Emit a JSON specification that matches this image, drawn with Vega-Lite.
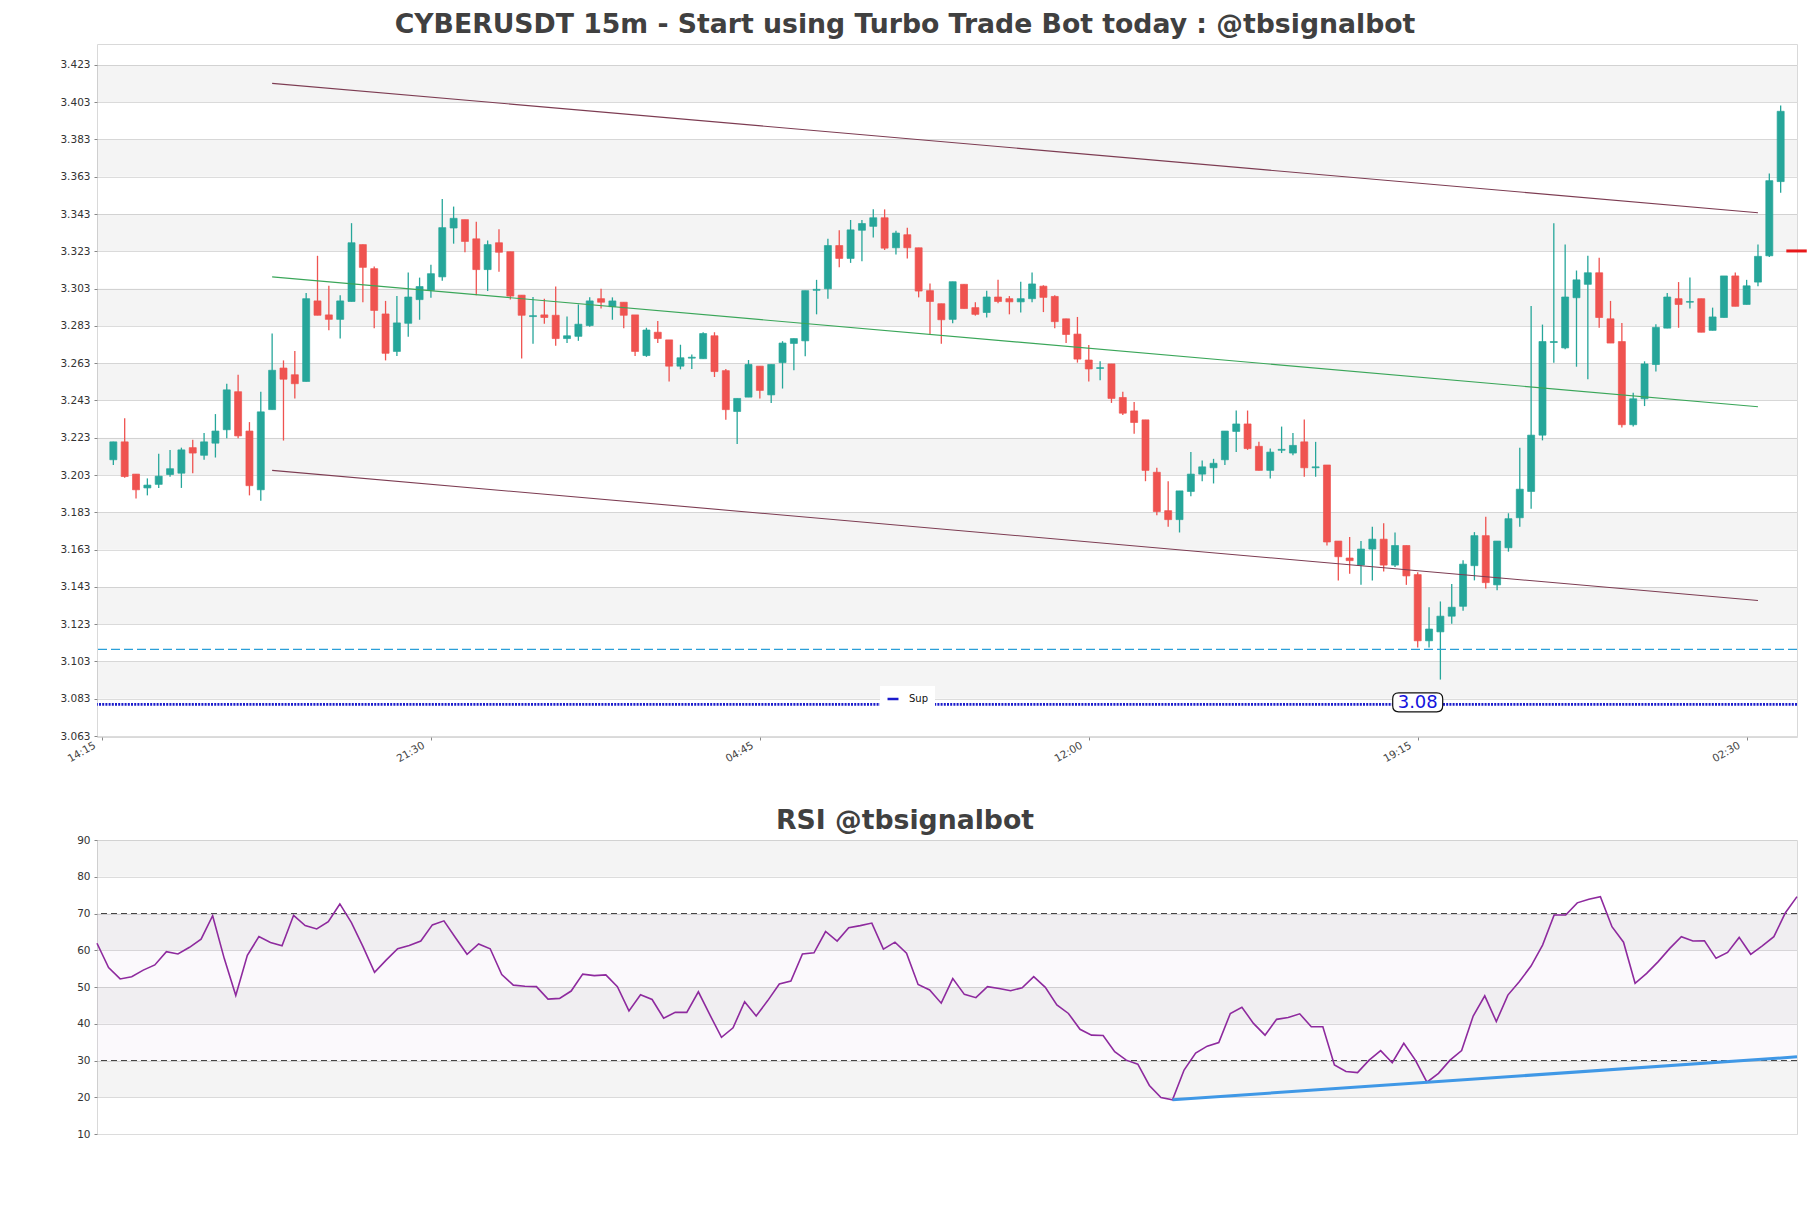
{
  "$schema": "https://vega.github.io/schema/vega-lite/v6.json",
  "autosize": {"type": "none"},
  "padding": {"left": 97, "top": 44, "right": 1714, "bottom": 1164},
  "background": "white",
  "bounds": "flush",
  "spacing": 103,
  "config": {
    "font": "DejaVu Sans",
    "view": {"stroke": "#d9d9d9", "strokeWidth": 1},
    "axis": {"labelFont": "DejaVu Sans", "labelColor": "#333333", "tickColor": "#888888", "gridColor": "#dcdcdc", "domain": false, "title": null, "labelOverlap": false},
    "title": {"font": "DejaVu Sans", "fontWeight": "bold", "fontSize": 26.7, "color": "#404040"}
  },
  "datasets": {
    "candles": [
      {"i":0,"o":3.2112,"h":3.2208,"l":3.2084,"c":3.2208,"rsi":61.9},
      {"i":1,"o":3.2208,"h":3.2335,"l":3.2016,"c":3.2022,"rsi":55.3},
      {"i":2,"o":3.2035,"h":3.2035,"l":3.1904,"c":3.1951,"rsi":52.2},
      {"i":3,"o":3.1961,"h":3.2012,"l":3.1921,"c":3.1976,"rsi":52.8},
      {"i":4,"o":3.1980,"h":3.2144,"l":3.1961,"c":3.2024,"rsi":54.6},
      {"i":5,"o":3.2033,"h":3.2165,"l":3.2021,"c":3.2064,"rsi":56.0},
      {"i":6,"o":3.2040,"h":3.2177,"l":3.1961,"c":3.2165,"rsi":59.6},
      {"i":7,"o":3.2177,"h":3.2220,"l":3.2040,"c":3.2148,"rsi":59.0},
      {"i":8,"o":3.2136,"h":3.2256,"l":3.2112,"c":3.2208,"rsi":60.8},
      {"i":9,"o":3.2201,"h":3.2357,"l":3.2124,"c":3.2266,"rsi":63.0},
      {"i":10,"o":3.2273,"h":3.2520,"l":3.2228,"c":3.2487,"rsi":69.4},
      {"i":11,"o":3.2477,"h":3.2568,"l":3.2228,"c":3.2240,"rsi":57.8},
      {"i":12,"o":3.2266,"h":3.2314,"l":3.1921,"c":3.1973,"rsi":47.7},
      {"i":13,"o":3.1951,"h":3.2477,"l":3.1892,"c":3.2369,"rsi":58.6},
      {"i":14,"o":3.2381,"h":3.2789,"l":3.2381,"c":3.2592,"rsi":63.7},
      {"i":15,"o":3.2604,"h":3.2645,"l":3.2215,"c":3.2544,"rsi":62.1},
      {"i":16,"o":3.2568,"h":3.2695,"l":3.2441,"c":3.2520,"rsi":61.2},
      {"i":17,"o":3.2532,"h":3.3007,"l":3.2532,"c":3.2976,"rsi":69.5},
      {"i":18,"o":3.2964,"h":3.3206,"l":3.2887,"c":3.2887,"rsi":66.7},
      {"i":19,"o":3.2889,"h":3.3045,"l":3.2806,"c":3.2865,"rsi":65.8},
      {"i":20,"o":3.2865,"h":3.2995,"l":3.2762,"c":3.2964,"rsi":67.8},
      {"i":21,"o":3.2961,"h":3.3381,"l":3.2961,"c":3.3276,"rsi":72.6},
      {"i":22,"o":3.3266,"h":3.3266,"l":3.2957,"c":3.3144,"rsi":67.5},
      {"i":23,"o":3.3137,"h":3.3149,"l":3.2818,"c":3.2913,"rsi":61.0},
      {"i":24,"o":3.2894,"h":3.2964,"l":3.2645,"c":3.2683,"rsi":54.0},
      {"i":25,"o":3.2693,"h":3.2990,"l":3.2669,"c":3.2846,"rsi":57.3},
      {"i":26,"o":3.2844,"h":3.3117,"l":3.2772,"c":3.2985,"rsi":60.4},
      {"i":27,"o":3.2971,"h":3.3089,"l":3.2863,"c":3.3041,"rsi":61.3},
      {"i":28,"o":3.3021,"h":3.3158,"l":3.2981,"c":3.3110,"rsi":62.5},
      {"i":29,"o":3.3093,"h":3.3511,"l":3.3072,"c":3.3357,"rsi":66.9},
      {"i":30,"o":3.3355,"h":3.3470,"l":3.3271,"c":3.3407,"rsi":68.0},
      {"i":31,"o":3.3400,"h":3.3400,"l":3.3225,"c":3.3283,"rsi":63.4},
      {"i":32,"o":3.3297,"h":3.3388,"l":3.2995,"c":3.3132,"rsi":58.9},
      {"i":33,"o":3.3132,"h":3.3288,"l":3.3017,"c":3.3266,"rsi":61.7},
      {"i":34,"o":3.3276,"h":3.3348,"l":3.3120,"c":3.3225,"rsi":60.4},
      {"i":35,"o":3.3228,"h":3.3228,"l":3.2971,"c":3.2990,"rsi":53.4},
      {"i":36,"o":3.2995,"h":3.2995,"l":3.2655,"c":3.2887,"rsi":50.5},
      {"i":37,"o":3.2880,"h":3.2985,"l":3.2734,"c":3.2885,"rsi":50.2},
      {"i":38,"o":3.2889,"h":3.2976,"l":3.2841,"c":3.2875,"rsi":50.1},
      {"i":39,"o":3.2887,"h":3.3041,"l":3.2724,"c":3.2762,"rsi":46.7},
      {"i":40,"o":3.2762,"h":3.2880,"l":3.2738,"c":3.2777,"rsi":46.9},
      {"i":41,"o":3.2774,"h":3.2945,"l":3.2750,"c":3.2839,"rsi":48.9},
      {"i":42,"o":3.2832,"h":3.2983,"l":3.2825,"c":3.2964,"rsi":53.5},
      {"i":43,"o":3.2976,"h":3.3029,"l":3.2923,"c":3.2957,"rsi":53.1},
      {"i":44,"o":3.2933,"h":3.2983,"l":3.2863,"c":3.2964,"rsi":53.3},
      {"i":45,"o":3.2957,"h":3.2957,"l":3.2818,"c":3.2887,"rsi":50.1},
      {"i":46,"o":3.2889,"h":3.2889,"l":3.2669,"c":3.2693,"rsi":43.5},
      {"i":47,"o":3.2671,"h":3.2820,"l":3.2664,"c":3.2808,"rsi":47.9},
      {"i":48,"o":3.2796,"h":3.2856,"l":3.2738,"c":3.2762,"rsi":46.6},
      {"i":49,"o":3.2755,"h":3.2755,"l":3.2532,"c":3.2614,"rsi":41.5},
      {"i":50,"o":3.2614,"h":3.2729,"l":3.2597,"c":3.2659,"rsi":43.1},
      {"i":51,"o":3.2657,"h":3.2676,"l":3.2599,"c":3.2662,"rsi":43.1},
      {"i":52,"o":3.2654,"h":3.2796,"l":3.2654,"c":3.2789,"rsi":48.7},
      {"i":53,"o":3.2777,"h":3.2796,"l":3.2556,"c":3.2585,"rsi":42.4},
      {"i":54,"o":3.2590,"h":3.2599,"l":3.2326,"c":3.2381,"rsi":36.3},
      {"i":55,"o":3.2371,"h":3.2441,"l":3.2196,"c":3.2441,"rsi":38.9},
      {"i":56,"o":3.2448,"h":3.2647,"l":3.2448,"c":3.2623,"rsi":46.0},
      {"i":57,"o":3.2614,"h":3.2614,"l":3.2441,"c":3.2484,"rsi":42.1},
      {"i":58,"o":3.2460,"h":3.2623,"l":3.2417,"c":3.2623,"rsi":46.3},
      {"i":59,"o":3.2633,"h":3.2748,"l":3.2494,"c":3.2738,"rsi":50.8},
      {"i":60,"o":3.2736,"h":3.2762,"l":3.2592,"c":3.2762,"rsi":51.6},
      {"i":61,"o":3.2750,"h":3.3019,"l":3.2667,"c":3.3019,"rsi":59.0},
      {"i":62,"o":3.3021,"h":3.3077,"l":3.2892,"c":3.3026,"rsi":59.3},
      {"i":63,"o":3.3029,"h":3.3297,"l":3.2976,"c":3.3261,"rsi":65.1},
      {"i":64,"o":3.3261,"h":3.3343,"l":3.3144,"c":3.3192,"rsi":62.5},
      {"i":65,"o":3.3192,"h":3.3398,"l":3.3168,"c":3.3345,"rsi":66.1},
      {"i":66,"o":3.3343,"h":3.3398,"l":3.3177,"c":3.3379,"rsi":66.7},
      {"i":67,"o":3.3364,"h":3.3455,"l":3.3304,"c":3.3410,"rsi":67.4},
      {"i":68,"o":3.3410,"h":3.3455,"l":3.3237,"c":3.3247,"rsi":60.3},
      {"i":69,"o":3.3249,"h":3.3340,"l":3.3213,"c":3.3328,"rsi":62.2},
      {"i":70,"o":3.3319,"h":3.3357,"l":3.3192,"c":3.3249,"rsi":59.2},
      {"i":71,"o":3.3249,"h":3.3249,"l":3.2983,"c":3.3017,"rsi":50.7},
      {"i":72,"o":3.3019,"h":3.3057,"l":3.2784,"c":3.2961,"rsi":49.2},
      {"i":73,"o":3.2949,"h":3.2949,"l":3.2734,"c":3.2863,"rsi":45.6},
      {"i":74,"o":3.2865,"h":3.3067,"l":3.2844,"c":3.3067,"rsi":52.3},
      {"i":75,"o":3.3053,"h":3.3053,"l":3.2923,"c":3.2923,"rsi":48.0},
      {"i":76,"o":3.2928,"h":3.2957,"l":3.2885,"c":3.2892,"rsi":47.1},
      {"i":77,"o":3.2902,"h":3.3019,"l":3.2875,"c":3.2985,"rsi":50.1},
      {"i":78,"o":3.2985,"h":3.3077,"l":3.2952,"c":3.2961,"rsi":49.6},
      {"i":79,"o":3.2976,"h":3.2990,"l":3.2892,"c":3.2959,"rsi":49.0},
      {"i":80,"o":3.2959,"h":3.3067,"l":3.2902,"c":3.2976,"rsi":49.8},
      {"i":81,"o":3.2976,"h":3.3117,"l":3.2957,"c":3.3055,"rsi":52.8},
      {"i":82,"o":3.3043,"h":3.3048,"l":3.2904,"c":3.2983,"rsi":49.9},
      {"i":83,"o":3.2988,"h":3.2995,"l":3.2818,"c":3.2853,"rsi":45.1},
      {"i":84,"o":3.2868,"h":3.2868,"l":3.2738,"c":3.2784,"rsi":42.8},
      {"i":85,"o":3.2786,"h":3.2878,"l":3.2633,"c":3.2652,"rsi":38.5},
      {"i":86,"o":3.2647,"h":3.2727,"l":3.2532,"c":3.2599,"rsi":36.9},
      {"i":87,"o":3.2602,"h":3.2640,"l":3.2539,"c":3.2606,"rsi":36.8},
      {"i":88,"o":3.2626,"h":3.2626,"l":3.2417,"c":3.2441,"rsi":32.4},
      {"i":89,"o":3.2446,"h":3.2477,"l":3.2352,"c":3.2362,"rsi":30.1},
      {"i":90,"o":3.2374,"h":3.2422,"l":3.2252,"c":3.2312,"rsi":29.0},
      {"i":91,"o":3.2326,"h":3.2326,"l":3.1997,"c":3.2055,"rsi":23.2},
      {"i":92,"o":3.2045,"h":3.2069,"l":3.1815,"c":3.1834,"rsi":19.9},
      {"i":93,"o":3.1839,"h":3.1997,"l":3.1753,"c":3.1791,"rsi":19.3},
      {"i":94,"o":3.1791,"h":3.1945,"l":3.1722,"c":3.1945,"rsi":27.4},
      {"i":95,"o":3.1942,"h":3.2153,"l":3.1916,"c":3.2035,"rsi":32.0},
      {"i":96,"o":3.2035,"h":3.2108,"l":3.1997,"c":3.2074,"rsi":33.9},
      {"i":97,"o":3.2069,"h":3.2117,"l":3.1985,"c":3.2093,"rsi":34.9},
      {"i":98,"o":3.2112,"h":3.2266,"l":3.2084,"c":3.2266,"rsi":42.8},
      {"i":99,"o":3.2264,"h":3.2376,"l":3.2153,"c":3.2304,"rsi":44.5},
      {"i":100,"o":3.2304,"h":3.2376,"l":3.2165,"c":3.2172,"rsi":40.1},
      {"i":101,"o":3.2184,"h":3.2208,"l":3.2055,"c":3.2055,"rsi":36.9},
      {"i":102,"o":3.2055,"h":3.2172,"l":3.2012,"c":3.2153,"rsi":41.2},
      {"i":103,"o":3.2163,"h":3.2290,"l":3.2148,"c":3.2168,"rsi":41.7},
      {"i":104,"o":3.2148,"h":3.2256,"l":3.2136,"c":3.2189,"rsi":42.7},
      {"i":105,"o":3.2208,"h":3.2328,"l":3.2021,"c":3.2069,"rsi":39.2},
      {"i":106,"o":3.2069,"h":3.2208,"l":3.2021,"c":3.2074,"rsi":39.2},
      {"i":107,"o":3.2084,"h":3.2084,"l":3.1652,"c":3.1671,"rsi":28.8},
      {"i":108,"o":3.1676,"h":3.1676,"l":3.1465,"c":3.1592,"rsi":27.0},
      {"i":109,"o":3.1585,"h":3.1698,"l":3.1501,"c":3.1571,"rsi":26.7},
      {"i":110,"o":3.1547,"h":3.1676,"l":3.1441,"c":3.1633,"rsi":30.1},
      {"i":111,"o":3.1633,"h":3.1753,"l":3.1465,"c":3.1686,"rsi":32.7},
      {"i":112,"o":3.1686,"h":3.1772,"l":3.1513,"c":3.1547,"rsi":29.4},
      {"i":113,"o":3.1547,"h":3.1722,"l":3.1537,"c":3.1652,"rsi":34.7},
      {"i":114,"o":3.1652,"h":3.1652,"l":3.1441,"c":3.1489,"rsi":30.1},
      {"i":115,"o":3.1496,"h":3.1508,"l":3.1105,"c":3.1141,"rsi":24.1},
      {"i":116,"o":3.1141,"h":3.1321,"l":3.1105,"c":3.1204,"rsi":26.5},
      {"i":117,"o":3.1189,"h":3.1352,"l":3.0933,"c":3.1273,"rsi":30.1},
      {"i":118,"o":3.1273,"h":3.1446,"l":3.1232,"c":3.1321,"rsi":32.7},
      {"i":119,"o":3.1326,"h":3.1573,"l":3.1302,"c":3.1552,"rsi":42.1},
      {"i":120,"o":3.1544,"h":3.1724,"l":3.1465,"c":3.1705,"rsi":47.6},
      {"i":121,"o":3.1705,"h":3.1806,"l":3.1422,"c":3.1453,"rsi":40.6},
      {"i":122,"o":3.1441,"h":3.1676,"l":3.1412,"c":3.1676,"rsi":47.8},
      {"i":123,"o":3.1640,"h":3.1825,"l":3.1619,"c":3.1796,"rsi":51.5},
      {"i":124,"o":3.1801,"h":3.2177,"l":3.1753,"c":3.1954,"rsi":55.7},
      {"i":125,"o":3.1942,"h":3.2937,"l":3.1849,"c":3.2244,"rsi":61.4},
      {"i":126,"o":3.2244,"h":3.2837,"l":3.2216,"c":3.2746,"rsi":69.6},
      {"i":127,"o":3.2741,"h":3.3381,"l":3.2633,"c":3.2746,"rsi":69.6},
      {"i":128,"o":3.2712,"h":3.3266,"l":3.2705,"c":3.2985,"rsi":72.9},
      {"i":129,"o":3.2981,"h":3.3127,"l":3.2611,"c":3.3077,"rsi":73.9},
      {"i":130,"o":3.3053,"h":3.3206,"l":3.2544,"c":3.3115,"rsi":74.6},
      {"i":131,"o":3.3115,"h":3.3196,"l":3.2820,"c":3.2875,"rsi":66.4},
      {"i":132,"o":3.2868,"h":3.2964,"l":3.2738,"c":3.2738,"rsi":62.2},
      {"i":133,"o":3.2746,"h":3.2846,"l":3.2285,"c":3.2300,"rsi":51.0},
      {"i":134,"o":3.2300,"h":3.2472,"l":3.2290,"c":3.2439,"rsi":53.7},
      {"i":135,"o":3.2439,"h":3.2640,"l":3.2400,"c":3.2626,"rsi":56.9},
      {"i":136,"o":3.2623,"h":3.2839,"l":3.2585,"c":3.2822,"rsi":60.5},
      {"i":137,"o":3.2818,"h":3.3007,"l":3.2818,"c":3.2985,"rsi":63.7},
      {"i":138,"o":3.2976,"h":3.3065,"l":3.2820,"c":3.2945,"rsi":62.5},
      {"i":139,"o":3.2957,"h":3.3089,"l":3.2923,"c":3.2961,"rsi":62.6},
      {"i":140,"o":3.2976,"h":3.2976,"l":3.2796,"c":3.2796,"rsi":57.8},
      {"i":141,"o":3.2806,"h":3.2928,"l":3.2806,"c":3.2878,"rsi":59.4},
      {"i":142,"o":3.2875,"h":3.3098,"l":3.2875,"c":3.3098,"rsi":63.5},
      {"i":143,"o":3.3098,"h":3.3117,"l":3.2935,"c":3.2935,"rsi":58.9},
      {"i":144,"o":3.2945,"h":3.3077,"l":3.2945,"c":3.3045,"rsi":61.2},
      {"i":145,"o":3.3065,"h":3.3266,"l":3.3043,"c":3.3203,"rsi":63.7},
      {"i":146,"o":3.3206,"h":3.3647,"l":3.3199,"c":3.3609,"rsi":70.2},
      {"i":147,"o":3.3604,"h":3.4012,"l":3.3544,"c":3.3981,"rsi":74.6}
    ],
    "bands": [
      {"lo":3.083,"hi":3.103},{"lo":3.123,"hi":3.143},{"lo":3.163,"hi":3.183},
      {"lo":3.203,"hi":3.223},{"lo":3.243,"hi":3.263},{"lo":3.283,"hi":3.303},
      {"lo":3.323,"hi":3.343},{"lo":3.363,"hi":3.383},{"lo":3.403,"hi":3.423}
    ],
    "trend": [
      {"line":"upper","i":14,"v":3.4131},{"line":"upper","i":145,"v":3.3437},
      {"line":"mid","i":14,"v":3.3093},{"line":"mid","i":145,"v":3.2396},
      {"line":"lower","i":14,"v":3.2055},{"line":"lower","i":145,"v":3.1357}
    ],
    "levels": [
      {"name":"res","v":3.1095},
      {"name":"Sup","v":3.08}
    ],
    "labels": [{"i":115,"v":3.08,"label":"3.08"}],
    "last": [{"i0":147.5,"i1":149.3,"v":3.3232}],
    "rsiBands": [{"lo":20,"hi":30},{"lo":40,"hi":50},{"lo":60,"hi":70},{"lo":80,"hi":90}],
    "rsiZone": [{"lo":30,"hi":70}],
    "rsiLevels": [{"v":70},{"v":30}],
    "rsiTrend": [{"i":93,"v":19.3},{"i":147,"v":31.0}]
  },
  "vconcat": [
    {
      "width": 1700,
      "height": 693,
      "title": {"text": "CYBERUSDT 15m - Start using Turbo Trade Bot today : @tbsignalbot", "anchor": "middle", "dx": -42, "dy": 27, "offset": 11.5, "baseline": "alphabetic"},
      "layer": [
        {
          "data": {"name": "bands"},
          "mark": {"type": "rect", "fill": "#000000", "fillOpacity": 0.045},
          "encoding": {
            "y": {"field": "lo", "type": "quantitative",
                  "scale": {"domain": [3.0625, 3.4342], "nice": false, "zero": false},
                  "axis": {"values": [3.063,3.083,3.103,3.123,3.143,3.163,3.183,3.203,3.223,3.243,3.263,3.283,3.303,3.323,3.343,3.363,3.383,3.403,3.423],
                           "tickCount": 100,
                           "format": ".3f", "labelFontSize": 10.5, "tickSize": 3, "labelPadding": 4, "grid": true, "title": null,
                           "labelOverlap": false, "labelSeparation": 0, "labelBound": false}},
            "y2": {"field": "hi"},
            "x": {"value": 0},
            "x2": {"value": "width"}
          }
        },
        {
          "data": {"name": "candles"},
          "mark": {"type": "rule", "strokeWidth": 1.3},
          "encoding": {
            "x": {"field": "i", "type": "quantitative",
                  "scale": {"domain": [-1, 148], "nice": false, "zero": false},
                  "axis": {"values": [-1, 28, 57, 86, 115, 144], "tickCount": 100,
                           "labelExpr": "timeFormat(datetime(2024, 0, 1, 14, 30 + datum.value * 15), '%H:%M')",
                           "labelAngle": -30, "labelAlign": "right", "labelBaseline": "top",
                           "labelOffset": -10, "labelPadding": 0, "labelColor": "#444444",
                           "labelFontSize": 10.5, "tickSize": 3, "grid": false, "title": null, "labelOverlap": false}},
            "y": {"field": "l", "type": "quantitative"},
            "y2": {"field": "h"},
            "color": {"condition": {"test": "datum.c >= datum.o", "value": "#26a69a"}, "value": "#ef5350"}
          }
        },
        {
          "data": {"name": "candles"},
          "mark": {"type": "bar", "size": 7, "strokeWidth": 0.7},
          "encoding": {
            "x": {"field": "i", "type": "quantitative"},
            "y": {"field": "o", "type": "quantitative"},
            "y2": {"field": "c"},
            "fill": {"condition": {"test": "datum.c >= datum.o", "value": "#26a69a"}, "value": "#ef5350"},
            "stroke": {"condition": {"test": "datum.c >= datum.o", "value": "#26a69a"}, "value": "#ef5350"}
          }
        },
        {
          "data": {"name": "trend"},
          "transform": [{"filter": "datum.line != 'mid'"}],
          "mark": {"type": "line", "strokeWidth": 1.1, "color": "#7d3c52"},
          "encoding": {
            "x": {"field": "i", "type": "quantitative"},
            "y": {"field": "v", "type": "quantitative"},
            "detail": {"field": "line"}
          }
        },
        {
          "data": {"name": "trend"},
          "transform": [{"filter": "datum.line == 'mid'"}],
          "mark": {"type": "line", "strokeWidth": 1.1, "color": "#3aa659"},
          "encoding": {
            "x": {"field": "i", "type": "quantitative"},
            "y": {"field": "v", "type": "quantitative"}
          }
        },
        {
          "data": {"name": "levels"},
          "transform": [{"filter": "datum.name == 'res'"}],
          "mark": {"type": "rule", "strokeDash": [9, 4], "strokeWidth": 1.2, "color": "#2a9fd8"},
          "encoding": {"y": {"field": "v", "type": "quantitative"}}
        },
        {
          "data": {"name": "levels"},
          "transform": [{"filter": "datum.name == 'Sup'"}],
          "mark": {"type": "rule", "strokeDash": [2, 1.2], "strokeWidth": 2.6},
          "encoding": {
            "y": {"field": "v", "type": "quantitative"},
            "color": {"field": "name", "type": "nominal",
                      "scale": {"range": ["#1a1acc"]},
                      "legend": {"orient": "none", "legendX": 783, "legendY": 642, "title": null,
                                 "fillColor": "white", "padding": 6, "symbolType": "stroke",
                                 "symbolStrokeWidth": 2.5, "symbolSize": 120, "symbolDash": [1, 0],
                                 "labelFontSize": 10, "labelOffset": 9, "labelColor": "#111111"}}
          }
        },
        {
          "data": {"name": "labels"},
          "mark": {"type": "point",
                   "shape": "M -0.76 -0.38 L 0.76 -0.38 Q 1 -0.38 1 -0.14 L 1 0.14 Q 1 0.38 0.76 0.38 L -0.76 0.38 Q -1 0.38 -1 0.14 L -1 -0.14 Q -1 -0.38 -0.76 -0.38 Z",
                   "size": 2500, "filled": true, "fill": "white", "stroke": "#111111", "strokeWidth": 1.2, "opacity": 1, "yOffset": -2},
          "encoding": {
            "x": {"field": "i", "type": "quantitative"},
            "y": {"field": "v", "type": "quantitative"}
          }
        },
        {
          "data": {"name": "labels"},
          "mark": {"type": "text", "fontSize": 18, "color": "#1414dd", "align": "center", "baseline": "middle", "yOffset": -1.5},
          "encoding": {
            "x": {"field": "i", "type": "quantitative"},
            "y": {"field": "v", "type": "quantitative"},
            "text": {"field": "label"}
          }
        },
        {
          "data": {"name": "last"},
          "mark": {"type": "rule", "color": "#e8191b", "strokeWidth": 3, "clip": false},
          "encoding": {
            "x": {"field": "i0", "type": "quantitative"},
            "x2": {"field": "i1"},
            "y": {"field": "v", "type": "quantitative"}
          }
        }
      ]
    },
    {
      "width": 1700,
      "height": 294,
      "title": {"text": "RSI @tbsignalbot", "anchor": "middle", "dx": -42, "dy": 31, "offset": 10.7, "baseline": "alphabetic"},
      "layer": [
        {
          "data": {"name": "rsiBands"},
          "mark": {"type": "rect", "fill": "#000000", "fillOpacity": 0.045},
          "encoding": {
            "y": {"field": "lo", "type": "quantitative",
                  "scale": {"domain": [10, 90], "nice": false, "zero": false},
                  "axis": {"values": [10,20,30,40,50,60,70,80,90], "tickCount": 100, "labelFontSize": 10.5, "tickSize": 3, "labelPadding": 4, "grid": true, "title": null,
                           "labelOverlap": false, "labelSeparation": 0, "labelBound": false}},
            "y2": {"field": "hi"},
            "x": {"value": 0},
            "x2": {"value": "width"}
          }
        },
        {
          "data": {"name": "rsiZone"},
          "mark": {"type": "rect", "fill": "#8a4fb0", "fillOpacity": 0.035},
          "encoding": {
            "y": {"field": "lo", "type": "quantitative"},
            "y2": {"field": "hi"},
            "x": {"value": 0},
            "x2": {"value": "width"}
          }
        },
        {
          "data": {"name": "rsiLevels"},
          "mark": {"type": "rule", "strokeDash": [6, 4], "strokeWidth": 1.2, "color": "#444444"},
          "encoding": {"y": {"field": "v", "type": "quantitative"}}
        },
        {
          "data": {"name": "candles"},
          "mark": {"type": "line", "strokeWidth": 1.6, "color": "#8e2a9e"},
          "encoding": {
            "x": {"field": "i", "type": "quantitative", "scale": {"domain": [0, 147], "nice": false, "zero": false}, "axis": null},
            "y": {"field": "rsi", "type": "quantitative"}
          }
        },
        {
          "data": {"name": "rsiTrend"},
          "mark": {"type": "line", "strokeWidth": 3, "color": "#3f98e6"},
          "encoding": {
            "x": {"field": "i", "type": "quantitative"},
            "y": {"field": "v", "type": "quantitative"}
          }
        }
      ]
    }
  ]
}
